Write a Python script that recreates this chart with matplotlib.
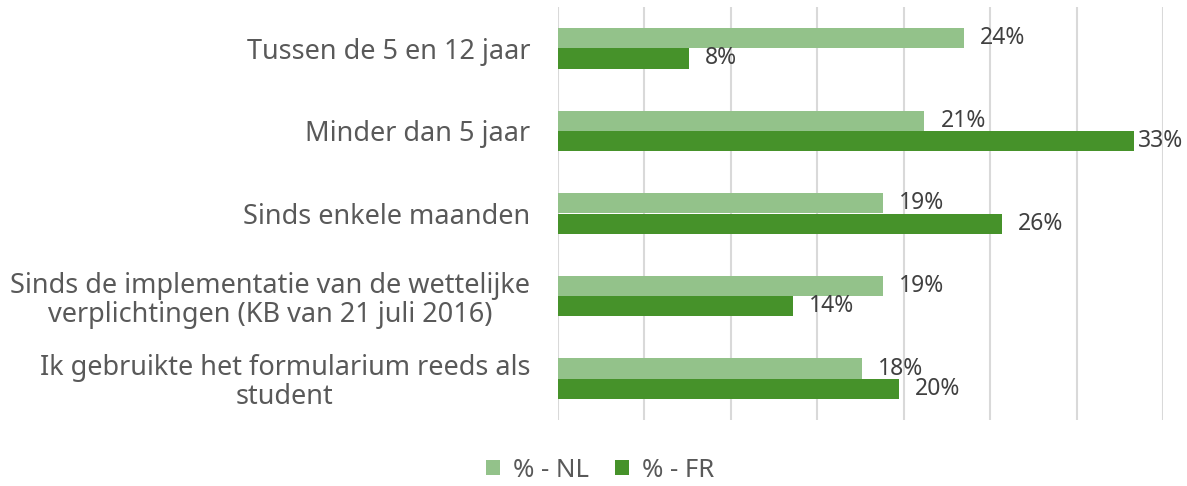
import matplotlib.pyplot as plt
import numpy as np

plt.rcParams['font.family'] = ['Noto Sans', 'DejaVu Sans']

# categories, top to bottom
categories = [
    "Tussen de 5 en 12 jaar",
    "Minder dan 5 jaar",
    "Sinds enkele maanden",
    "Sinds de implementatie van de wettelijke\nverplichtingen (KB van 21 juli 2016)",
    "Ik gebruikte het formularium reeds als\nstudent",
]
nl_values = [23.5, 21.2, 18.8, 18.8, 17.6]
fr_values = [7.6, 33.3, 25.7, 13.6, 19.7]
series_names = ["% - NL", "% - FR"]

nl_color = "#93C28A"
fr_color = "#46922A"

W, H = 1187, 486
fig = plt.figure(figsize=(W / 100, H / 100), dpi=100)
ax = fig.add_axes([558 / W, 1 - 420 / H, (1163 - 558) / W, 413 / H])

y = np.arange(len(categories))
h = 0.245
ax.barh(y - h / 2, nl_values, height=h, color=nl_color, label=series_names[0], zorder=3)
ax.barh(y + h / 2, fr_values, height=h, color=fr_color, label=series_names[1], zorder=3)

ax.set_xlim(0, 35)
ax.set_ylim(len(categories) - 0.5, -0.5)

# data labels, kept inside the figure like Excel does
labels = []
for vals, off in ((nl_values, -h / 2), (fr_values, h / 2)):
    for yi, v in zip(y, vals):
        t = ax.annotate(f"{v:.0f}%", (v, yi + off), xytext=(11.5, 0), textcoords="offset points",
                        va="center", ha="left", fontsize=16.5, color="#404040")
        labels.append(t)

fig.canvas.draw()
r = fig.canvas.get_renderer()
for t in labels:
    bb = t.get_window_extent(r)
    if bb.x1 > W - 4:
        dx = (bb.x1 - (W - 4)) * 72 / 100
        x0, y0 = t.xyann
        t.xyann = (x0 - dx, y0)

ax.set_xticks(np.arange(0, 36, 5))
ax.set_xticklabels([])
ax.tick_params(axis="x", length=0)
ax.tick_params(axis="y", length=0, pad=20)
ax.set_yticks(y)
ax.set_yticklabels(categories, fontsize=19.5, color="#595959", multialignment="center",
                   linespacing=1.05)
ax.grid(axis="x", color="#D9D9D9", linewidth=1.5, zorder=0)
for s in ax.spines.values():
    s.set_visible(False)

fig.legend(loc="center", bbox_to_anchor=(600 / W, 1 - 470 / H), ncol=2, frameon=False,
           fontsize=18.5, labelcolor="#595959", handlelength=0.55, handleheight=0.55,
           handletextpad=0.5, columnspacing=1.0)

fig.savefig("out.png", dpi=100)
